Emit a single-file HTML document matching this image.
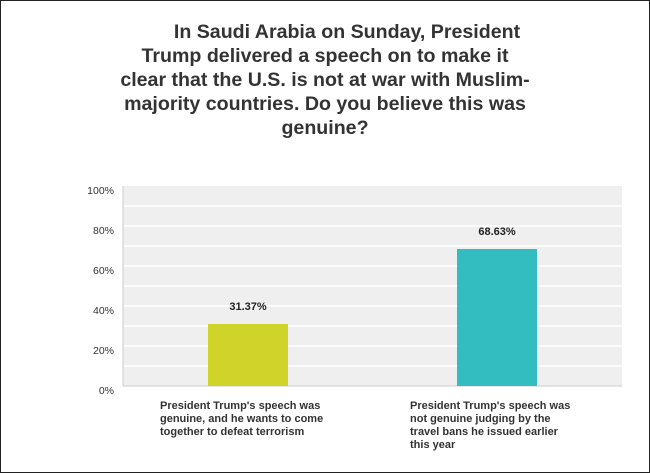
<!DOCTYPE html><html><head><style>
body{margin:0;width:650px;height:474px;background:#fff;overflow:hidden;font-family:"Liberation Sans",Arial,sans-serif}
.frame{position:absolute;left:0;top:0;width:648px;height:471px;border:1px solid #222}
.t{position:absolute;left:0;width:650px;text-align:center;font-weight:bold;font-size:19.6px;color:#333;line-height:24px}
.cat{position:absolute;font-size:11px;font-weight:bold;color:#333;line-height:13px}
</style></head><body><div class="frame"></div>
<div class="t" style="top:20px"><span style="padding-left:44px">In Saudi Arabia on Sunday, President</span><br>Trump delivered a speech on to make it<br>clear that the U.S. is not at war with Muslim-<br>majority countries. Do you believe this was<br>genuine?</div>
<svg width="650" height="474" style="position:absolute;left:0;top:0" font-family="Liberation Sans,Arial,sans-serif">
<rect x="123" y="186" width="499" height="200" fill="#efefef"/>
<g stroke="#fff" stroke-width="1.5">
<line x1="124" x2="622" y1="206" y2="206"/><line x1="124" x2="622" y1="226" y2="226"/><line x1="124" x2="622" y1="246" y2="246"/><line x1="124" x2="622" y1="266" y2="266"/><line x1="124" x2="622" y1="286" y2="286"/><line x1="124" x2="622" y1="306" y2="306"/><line x1="124" x2="622" y1="326" y2="326"/><line x1="124" x2="622" y1="346" y2="346"/><line x1="124" x2="622" y1="366" y2="366"/>
</g>
<line x1="123" x2="123" y1="186" y2="386" stroke="#ccc"/>
<line x1="123" x2="622" y1="386" y2="386" stroke="#ccc"/>
<rect x="208" y="324" width="80" height="62" fill="#d0d32a"/>
<rect x="457" y="249" width="80" height="137" fill="#33bdc0"/>
<g font-size="11" font-weight="bold" fill="#222" text-anchor="middle"><text x="248" y="310">31.37%</text><text x="497" y="235">68.63%</text></g>
<g font-size="10.5" fill="#333" text-anchor="end"><text x="114" y="194">100%</text><text x="114" y="234">80%</text><text x="114" y="274">60%</text><text x="114" y="314">40%</text><text x="114" y="354">20%</text><text x="114" y="394">0%</text></g>
</svg>
<div class="cat" style="left:160px;top:400px">President Trump's speech was<br>genuine, and he wants to come<br>together to defeat terrorism</div>
<div class="cat" style="left:410px;top:400px">President Trump's speech was<br>not genuine judging by the<br>travel bans he issued earlier<br>this year</div>
</body></html>
